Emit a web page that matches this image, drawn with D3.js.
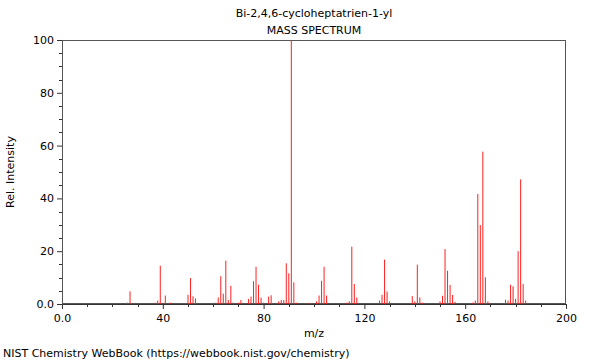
<!DOCTYPE html>
<html><head><meta charset="utf-8">
<script src="https://cdn.jsdelivr.net/npm/d3@7"></script>
<style>body{margin:0;background:#fff}svg{display:block}</style>
</head><body>
<svg id="c" width="600" height="360"></svg>
<script>
const mz = [26,27,37,38,39,41,43,50,51,52,53,61,62,63,64,65,66,67,68,70,71,74,75,76,77,78,79,80,82,83,86,87,88,89,90,91,92,93,98,99,101,102,103,104,105,113,114,115,116,117,126,127,128,129,130,139,140,141,142,143,150,151,152,153,154,155,156,163,164,165,166,167,168,169,176,177,178,179,180,181,182,183,184];
const intensity = [0.5,4.8,0.5,1.3,14.5,3.2,0.5,3.5,9.8,2.9,2.1,0.5,2.5,10.5,3.9,16.4,1.5,6.9,0.5,0.5,1.5,1.9,2.8,8.6,14.1,7.3,2.4,0.5,2.8,3.3,1.0,1.5,1.5,15.4,11.6,100,8.2,0.5,0.4,0.4,1.0,3.2,8.8,14.1,3.2,0.5,1.0,21.7,7.6,2.5,1.3,3.5,16.8,4.7,1.0,3.0,1.0,14.9,2.5,0.5,1.0,3.1,20.8,12.6,7.2,3.4,0.8,0.5,1.3,41.7,29.9,57.7,10.1,1.0,1.6,1.3,7.3,6.7,2.0,20.0,47.2,7.6,1.3];
const xTicks = [0,40,80,120,160,200];
const yTicks = [0,20,40,60,80,100];
const titleLines = ["Bi-2,4,6-cycloheptatrien-1-yl","MASS SPECTRUM"];

const svg = d3.select("#c");
const font = "DejaVu Sans, sans-serif";
const L=62, R=566, T=40, B=304;
const x = d3.scaleLinear().domain([0,200]).range([L,R]);
const y = d3.scaleLinear().domain([0,100]).range([B,T]);

// frame
svg.append("rect").attr("x",L+0.5).attr("y",T+0.5).attr("width",R-L-1).attr("height",B-T-1)
  .attr("fill","none").attr("stroke","#555").attr("stroke-width",1);

// peaks
svg.append("g").selectAll("line").data(mz).join("line")
  .attr("x1",d=>x(d)).attr("x2",d=>x(d))
  .attr("y1",y(0)).attr("y2",(d,i)=>y(intensity[i]))
  .attr("stroke","#ff2020").attr("stroke-width",1);

// x axis
const xa = svg.append("g").attr("transform",`translate(0,${B})`);
xa.call(d3.axisBottom(x).tickValues(xTicks).tickSize(5).tickFormat(d=>d===0?"0.0":d));
xa.select(".domain").attr("stroke","#333");
xa.selectAll(".tick line").attr("stroke","#333");
xa.selectAll("text").attr("font-family",font).attr("font-size",11).attr("fill","#000").attr("dy","0.9em");
const xm = svg.append("g");
xm.selectAll("line").data(d3.range(0,201,10).filter(v=>v%40!==0)).join("line")
  .attr("x1",d=>Math.round(x(d))+0.5).attr("x2",d=>Math.round(x(d))+0.5)
  .attr("y1",B).attr("y2",B+3).attr("stroke","#333");

// y axis
const ya = svg.append("g").attr("transform",`translate(${L},0)`);
ya.call(d3.axisLeft(y).tickValues(yTicks).tickSize(5).tickFormat(d=>d===0?"0.0":d));
ya.select(".domain").attr("stroke","#555");
ya.selectAll(".tick line").attr("stroke","#333");
ya.selectAll("text").attr("font-family",font).attr("font-size",11).attr("fill","#000");
const ym = svg.append("g");
ym.selectAll("line").data(d3.range(0,101,5).filter(v=>v%20!==0)).join("line")
  .attr("x1",L-3).attr("x2",L)
  .attr("y1",d=>Math.round(y(d))+0.5).attr("y2",d=>Math.round(y(d))+0.5).attr("stroke","#333");

// titles
svg.append("g").selectAll("text").data(titleLines).join("text")
  .attr("x",314).attr("y",(d,i)=>17+i*17).attr("text-anchor","middle")
  .attr("font-family",font).attr("font-size",11).text(d=>d);

svg.append("text").attr("x",314).attr("y",337).attr("text-anchor","middle")
  .attr("font-family",font).attr("font-size",11).text("m/z");
svg.append("text").attr("transform","translate(14,172) rotate(-90)").attr("text-anchor","middle")
  .attr("font-family",font).attr("font-size",11).text("Rel. Intensity");
svg.append("text").attr("x",3).attr("y",357)
  .attr("font-family",font).attr("font-size",11).text("NIST Chemistry WebBook (https://webbook.nist.gov/chemistry)");
</script>
</body></html>
